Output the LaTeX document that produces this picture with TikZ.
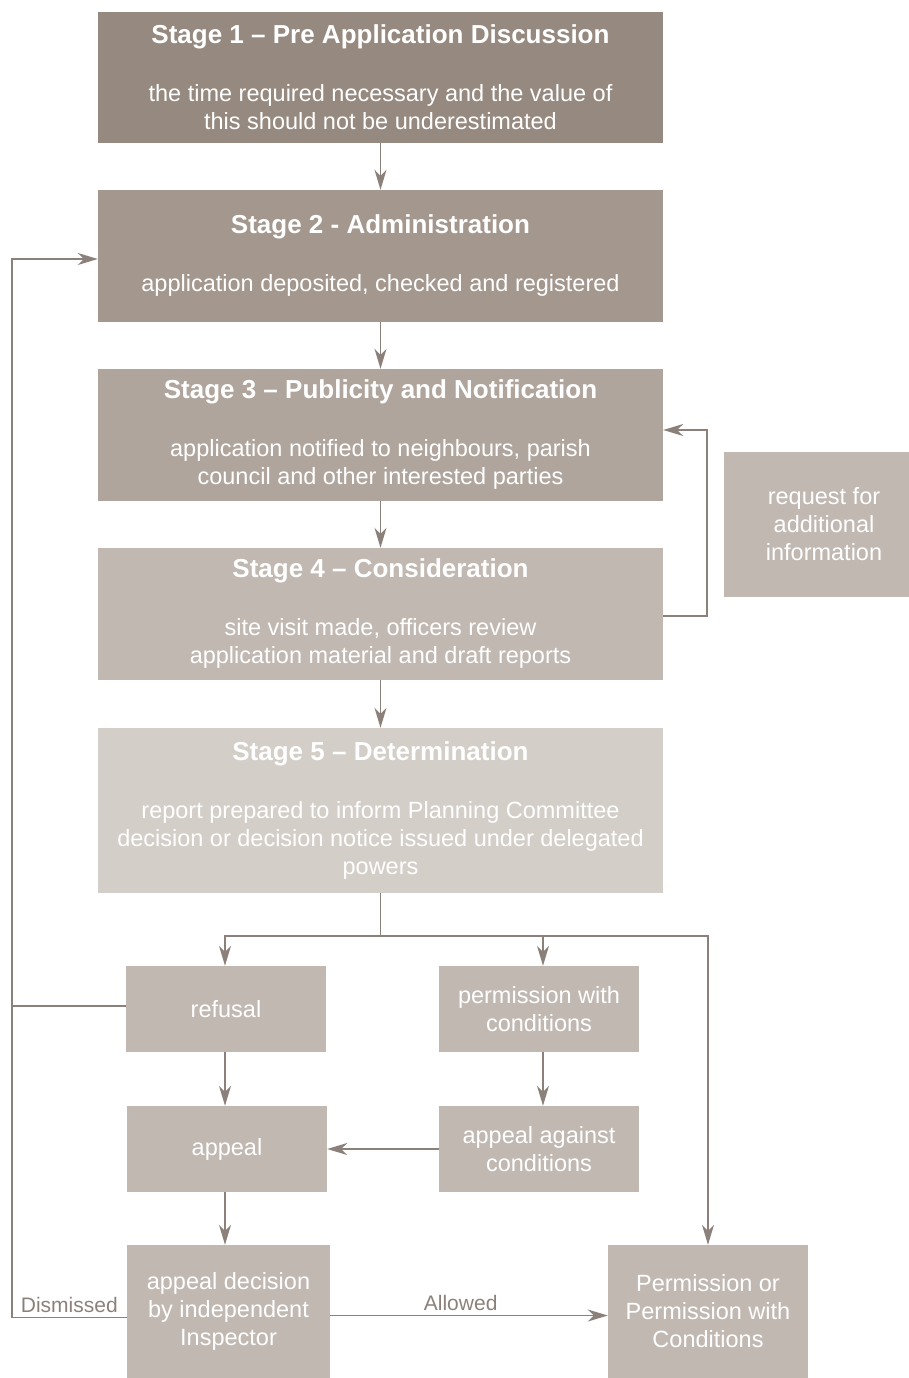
\documentclass[tikz,border=0pt]{standalone}
\usepackage{fontspec}
\setmainfont{Liberation Sans}
\usetikzlibrary{arrows.meta}

\definecolor{stageone}{HTML}{968A80}
\definecolor{stagetwo}{HTML}{A3978E}
\definecolor{stagethree}{HTML}{B0A59D}
\definecolor{stagefour}{HTML}{C1B8B2}
\definecolor{stagefive}{HTML}{D3CEC8}
\definecolor{linegrey}{HTML}{8C817A}

\newcommand{\stagehead}[1]{{\bfseries\fontsize{26}{28}\selectfont #1}}

\tikzset{
  box/.style={fill=#1, text=white, inner sep=0pt, align=center,
    font=\fontsize{23.5}{28}\selectfont},
  stagebox/.style={box=#1, minimum width=565pt},
  smallbox/.style={box=stagefour, minimum width=200pt, minimum height=86pt},
  flow/.style={draw=linegrey, line width=1.7pt,
    -{Stealth[length=20pt,width=12pt,inset=6pt]}},
  plain/.style={draw=linegrey, line width=1.7pt},
  tag/.style={text=linegrey, font=\fontsize{21}{24}\selectfont, inner sep=4pt}
}

\begin{document}
\begin{tikzpicture}[x=1pt,y=-1pt]

\useasboundingbox (0,0) rectangle (909,1378);

%% the five stages
\node [stagebox=stageone, minimum height=131pt] (s1) at (380.5,77.5)
  {\stagehead{Stage 1 -- Pre Application Discussion}\\[30pt]
   the time required necessary and the value of\\
   this should not be underestimated};
\node [stagebox=stagetwo, minimum height=132pt] (s2) at (380.5,256)
  {\stagehead{Stage 2 - Administration}\\[30pt]
   application deposited, checked and registered};
\node [stagebox=stagethree, minimum height=132pt] (s3) at (380.5,435)
  {\stagehead{Stage 3 -- Publicity and Notification}\\[30pt]
   application notified to neighbours, parish\\
   council and other interested parties};
\node [stagebox=stagefour, minimum height=132pt] (s4) at (380.5,614)
  {\stagehead{Stage 4 -- Consideration}\\[30pt]
   site visit made, officers review\\
   application material and draft reports};
\node [stagebox=stagefive, minimum height=165pt] (s5) at (380.5,810.5)
  {\stagehead{Stage 5 -- Determination}\\[30pt]
   report prepared to inform Planning Committee\\
   decision or decision notice issued under delegated\\
   powers};

%% side box (runs off the right edge)
\node [box=stagefour, minimum width=200pt, minimum height=145pt] (req) at (824,524.5)
  {request for\\ additional\\ information};

%% outcomes
\node [smallbox] (refusal) at (226,1009) {refusal};
\node [smallbox] (permcond) at (539,1009) {permission with\\ conditions};
\node [smallbox] (appeal) at (227,1149) {appeal};
\node [smallbox] (against) at (539,1149) {appeal against\\ conditions};
\node [box=stagefour, minimum width=203pt, minimum height=133pt] (decision) at (228.5,1311.5)
  {appeal decision\\ by independent\\ Inspector};
\node [box=stagefour, minimum width=200pt, minimum height=133pt] (granted) at (708,1311.5)
  {Permission or\\ Permission with\\ Conditions};

%% stage to stage
\draw [flow] (s1) -- (s2);
\draw [flow] (s2) -- (s3);
\draw [flow] (s3) -- (s4);
\draw [flow] (s4) -- (s5);

%% loop back for more information
\draw [flow] ([yshift=-2pt]s4.east) -- ++(44,0) |- ([yshift=5pt]s3.east);

%% split after determination
\coordinate (split) at (380.5,936);
\draw [plain] (s5.south) -- (split);
\draw [flow] (split) -| ([xshift=-1pt]refusal.north);
\draw [flow] (split) -| ([xshift=4pt]permcond.north);
\draw [flow] (split) -| (granted.north);

%% appeal route
\draw [flow] ([xshift=-1pt]refusal.south) -- ([xshift=-1pt]refusal.south |- appeal.north);
\draw [flow] ([xshift=4pt]permcond.south) -- ([xshift=4pt]against.north);
\draw [flow] (against) -- (appeal);
\draw [flow] ([xshift=-2pt]appeal.south) -- ([xshift=-2pt]appeal.south |- decision.north);

%% outcome of appeal
\draw [flow] ([yshift=-4pt]decision.east) -- ([yshift=-4pt]granted.west)
  node [tag, pos=0.47, above] {Allowed};
\draw [flow] ([yshift=-6pt]decision.west) -- ++(-115,0) coordinate (back)
  node [tag, midway, above] {Dismissed} |- ([yshift=-3pt]s2.west);
\draw [plain] ([yshift=3pt]refusal.west) -- ([yshift=3pt]refusal.west -| back);

\end{tikzpicture}
\end{document}
